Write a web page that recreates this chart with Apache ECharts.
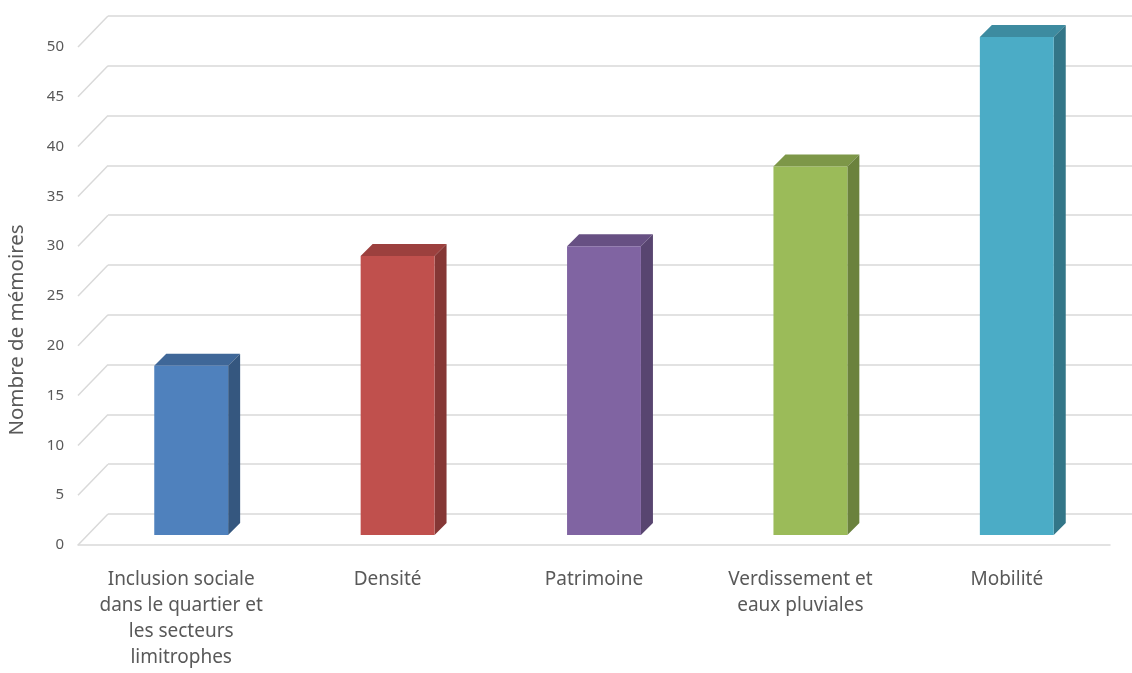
<!DOCTYPE html>
<html lang="fr">
<head>
  <meta charset="UTF-8">
  <title>Nombre de mémoires par thème</title>
  <script src="https://cdn.jsdelivr.net/npm/echarts@6/dist/echarts.min.js"></script>
  <style>
    html, body { margin: 0; padding: 0; background: #fff; }
    #chart { width: 1132px; height: 673px; }
  </style>
</head>
<body>
<div id="chart"></div>
<script>
  // données
  const categories = [
    "Inclusion sociale\ndans le quartier et\nles secteurs\nlimitrophes",
    "Densité",
    "Patrimoine",
    "Verdissement et\neaux pluviales",
    "Mobilité"
  ];
  const values = [17, 28, 29, 37, 50];
  const yTicks = [0, 5, 10, 15, 20, 25, 30, 35, 40, 45, 50];

  // couleurs : face avant, dessus, côté
  const barColors = [
    ["#4f81bd", "#3f6798", "#35577f"],
    ["#c0504d", "#9c403e", "#853735"],
    ["#8064a2", "#675083", "#584570"],
    ["#9bbb59", "#7d9748", "#6b823d"],
    ["#4bacc6", "#3d8ba0", "#337688"]
  ];

  // perspective (pixels)
  const DX = 30, DY = 31;      // profondeur du plancher
  const OFF = 10;              // décalage de la face avant des barres
  const DEPTH = 12;            // profondeur des barres
  const gridColor = "#d9d9d9";
  const textColor = "#595959";
  const font = "'Noto Sans', 'Liberation Sans', sans-serif";

  const chart = echarts.init(document.getElementById('chart'));

  const option = {
    animation: false,
    grid: [
      // mur du fond
      { left: 108, right: -13, top: 16, bottom: 159, outerBoundsMode: 'none' },
      // plan avant
      { left: 78, right: 22, top: 47, bottom: 128, outerBoundsMode: 'none' }
    ],
    xAxis: [
      { type: 'category', gridIndex: 0, data: categories, show: false },
      {
        type: 'category', gridIndex: 1, data: categories,
        axisLine: { lineStyle: { color: gridColor, width: 1.5 } },
        axisTick: { show: false },
        axisLabel: {
          color: textColor, fontSize: 19, fontFamily: font,
          lineHeight: 26, margin: 22, interval: 0
        }
      }
    ],
    yAxis: [
      {
        type: 'value', gridIndex: 0, min: 0, max: 50, interval: 5,
        axisLabel: { show: false }, axisLine: { show: false }, axisTick: { show: false },
        splitLine: { lineStyle: { color: gridColor, width: 1.5 } }
      },
      {
        type: 'value', gridIndex: 1, min: 0, max: 50, interval: 5,
        axisLine: { show: false }, axisTick: { show: false },
        splitLine: { show: false },
        axisLabel: { color: textColor, fontSize: 15, fontFamily: font, margin: 14 },
        name: 'Nombre de mémoires',
        nameLocation: 'middle',
        nameGap: 50,
        nameTextStyle: { color: textColor, fontSize: 20.5, fontFamily: font, padding: [0, 68, 0, 0] }
      }
    ],
    series: [
      {
        // diagonales du mur gauche
        type: 'custom',
        xAxisIndex: 1, yAxisIndex: 1,
        silent: true, clip: false,
        data: yTicks.map(v => [0, v]),
        renderItem: function (params, api) {
          const y = api.coord([0, api.value(1)])[1];
          const x = params.coordSys.x;
          return {
            type: 'line',
            shape: { x1: x, y1: y, x2: x + DX, y2: y - DY },
            style: { stroke: gridColor, lineWidth: 1.5 }
          };
        },
        z: 1
      },
      {
        // barres 3D
        type: 'custom',
        xAxisIndex: 1, yAxisIndex: 1,
        silent: true, clip: false,
        data: values.map((v, i) => [i, v]),
        renderItem: function (params, api) {
          const i = api.value(0);
          const top = api.coord([i, api.value(1)]);
          const base = api.coord([i, 0]);
          const w = api.size([1, 0])[0] * 0.358;
          const x0 = top[0] + OFF - w / 2, x1 = x0 + w;
          const yt = top[1] - OFF, yb = base[1] - OFF;
          const c = barColors[i];
          return {
            type: 'group',
            children: [
              {
                type: 'polygon',
                shape: { points: [[x0, yt], [x1, yt], [x1 + DEPTH, yt - DEPTH], [x0 + DEPTH, yt - DEPTH]] },
                style: { fill: c[1] }
              },
              {
                type: 'polygon',
                shape: { points: [[x1, yt], [x1 + DEPTH, yt - DEPTH], [x1 + DEPTH, yb - DEPTH], [x1, yb]] },
                style: { fill: c[2] }
              },
              {
                type: 'rect',
                shape: { x: x0, y: yt, width: w, height: yb - yt },
                style: { fill: c[0] }
              }
            ]
          };
        },
        z: 5
      }
    ]
  };

  chart.setOption(option);
</script>
</body>
</html>
